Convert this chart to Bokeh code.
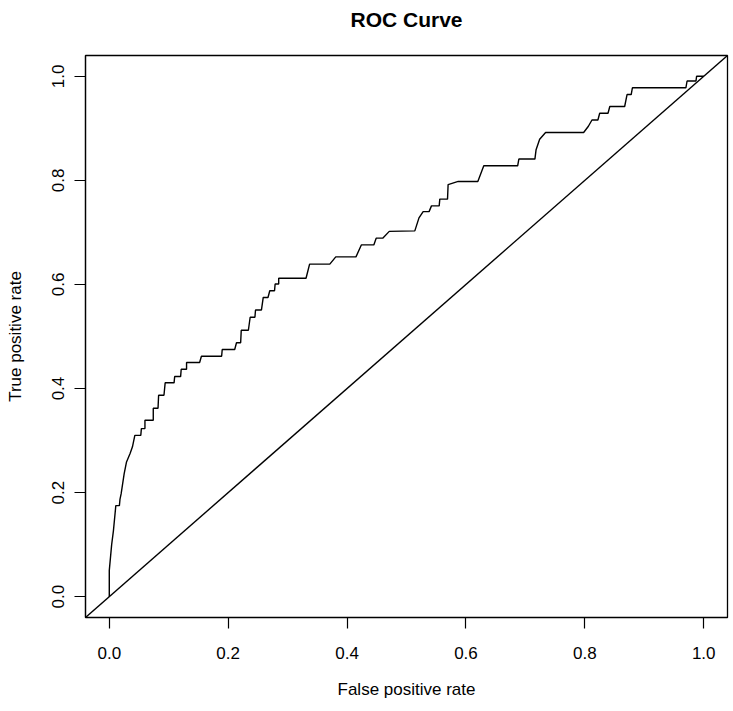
from bokeh.plotting import figure
from bokeh.models import Range1d, FixedTicker, Slope, NumeralTickFormatter, Title
from bokeh.embed import file_html
from bokeh.resources import INLINE

# ROC curve vertices (false positive rate, true positive rate)
fpr = [0.000, 0.000, 0.004, 0.007, 0.011, 0.017, 0.018, 0.020, 0.025, 0.029,
       0.035, 0.039, 0.043, 0.053, 0.054, 0.060, 0.060, 0.074, 0.074, 0.082,
       0.083, 0.092, 0.094, 0.109, 0.110, 0.120, 0.121, 0.130, 0.130, 0.152,
       0.155, 0.189, 0.190, 0.211, 0.214, 0.221, 0.222, 0.234, 0.237, 0.245,
       0.246, 0.256, 0.259, 0.267, 0.270, 0.278, 0.279, 0.285, 0.285, 0.331,
       0.337, 0.371, 0.381, 0.415, 0.424, 0.445, 0.449, 0.460, 0.471, 0.514,
       0.521, 0.528, 0.538, 0.542, 0.555, 0.556, 0.569, 0.570, 0.587, 0.620,
       0.630, 0.687, 0.689, 0.716, 0.718, 0.724, 0.734, 0.798, 0.806, 0.812,
       0.822, 0.825, 0.839, 0.842, 0.867, 0.871, 0.878, 0.880, 0.970, 0.972,
       0.987, 0.988, 1.000]
tpr = [0.000, 0.050, 0.100, 0.127, 0.175, 0.175, 0.187, 0.198, 0.236, 0.259,
       0.275, 0.288, 0.310, 0.310, 0.323, 0.323, 0.339, 0.339, 0.362, 0.362,
       0.387, 0.387, 0.411, 0.411, 0.423, 0.423, 0.437, 0.437, 0.450, 0.450,
       0.462, 0.462, 0.475, 0.475, 0.488, 0.488, 0.512, 0.512, 0.537, 0.537,
       0.551, 0.551, 0.575, 0.575, 0.588, 0.588, 0.601, 0.601, 0.612, 0.612,
       0.639, 0.639, 0.653, 0.653, 0.676, 0.676, 0.689, 0.689, 0.702, 0.703,
       0.728, 0.740, 0.740, 0.751, 0.751, 0.764, 0.764, 0.792, 0.798, 0.798,
       0.828, 0.828, 0.841, 0.841, 0.859, 0.879, 0.892, 0.892, 0.904, 0.916,
       0.916, 0.929, 0.929, 0.942, 0.942, 0.965, 0.965, 0.978, 0.978, 0.991,
       0.991, 1.000, 1.000]

ticks = [0.0, 0.2, 0.4, 0.6, 0.8, 1.0]
title_text = "ROC Curve"

FONT = "Liberation Sans"

p = figure(width=733, height=708, output_backend="svg", toolbar_location=None,
           x_range=Range1d(-0.04, 1.04), y_range=Range1d(-0.04, 1.04),
           min_border_left=85, min_border_right=6, min_border_top=55,
           min_border_bottom=91, title=None)

p.outline_line_color = "black"
p.outline_line_width = 1.3
p.background_fill_color = "white"
p.border_fill_color = "white"
p.xgrid.visible = False
p.ygrid.visible = False

for ax in (p.xaxis[0], p.yaxis[0]):
    ax.ticker = FixedTicker(ticks=ticks)
    ax.formatter = NumeralTickFormatter(format="0.0")
    ax.minor_tick_line_color = None
    ax.major_tick_in = 0
    ax.major_tick_out = 11
    ax.major_tick_line_color = "black"
    ax.major_tick_line_width = 1.2
    ax.axis_line_color = "black"
    ax.axis_line_width = 1.2
    ax.major_label_text_font = FONT
    ax.major_label_text_font_size = "17px"
    ax.major_label_text_color = "black"
    ax.axis_label_text_font = FONT
    ax.axis_label_text_font_size = "17px"
    ax.axis_label_text_font_style = "normal"
    ax.axis_label_text_color = "black"

p.xaxis.axis_label = "False positive rate"
p.yaxis.axis_label = "True positive rate"
p.xaxis.major_label_standoff = 18
p.xaxis.axis_label_standoff = 18
p.yaxis.major_label_orientation = "vertical"
p.yaxis.major_label_standoff = 10
p.yaxis.axis_label_standoff = 25

p.line(fpr, tpr, line_color="black", line_width=1.4)
p.add_layout(Slope(gradient=1, y_intercept=0, line_color="black", line_width=1.4))

# spacer panel between frame and title, then the title itself
p.add_layout(Title(text=" ", text_font_size="1px", standoff=16), "above")
p.add_layout(Title(text=title_text, align="center", text_font=FONT,
                   text_font_size="21px", text_font_style="bold",
                   text_color="black", standoff=11), "above")

open("out.html", "w").write(file_html(p, INLINE))
